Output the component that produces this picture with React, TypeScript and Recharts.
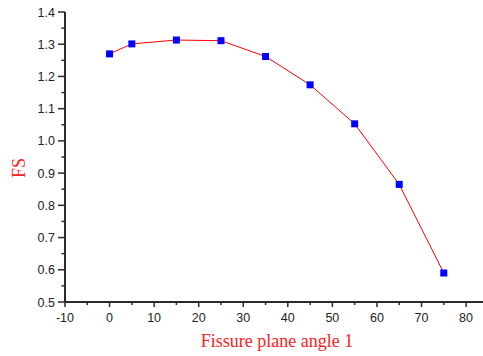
import React from 'react';
import { LineChart, Line, XAxis, YAxis, Label } from 'recharts';

const angles = [0, 5, 15, 25, 35, 45, 55, 65, 75];
const fsValues = [1.27, 1.301, 1.313, 1.311, 1.262, 1.174, 1.053, 0.865, 0.59];
const xTicks = [-10, -5, 0, 5, 10, 15, 20, 25, 30, 35, 40, 45, 50, 55, 60, 65, 70, 75, 80];
const yTicks = [0.5, 0.55, 0.6, 0.65, 0.7, 0.75, 0.8, 0.85, 0.9, 0.95, 1.0, 1.05, 1.1, 1.15, 1.2, 1.25, 1.3, 1.35, 1.4];
const xMajor = [-10, 0, 10, 20, 30, 40, 50, 60, 70, 80];
const yMajor = [0.5, 0.6, 0.7, 0.8, 0.9, 1.0, 1.1, 1.2, 1.3, 1.4];

const data = angles.map((a, i) => ({ angle: a, fs: fsValues[i] }));

const AXIS = '#2a2a2a';
const TICK_FONT = '"Liberation Sans", Arial, sans-serif';
const LABEL_FONT = '"Liberation Serif", "Times New Roman", serif';

const isMajor = (v: number, list: number[]) => list.some((m) => Math.abs(m - v) < 1e-6);

const XTick = (props: any) => {
  const { x, y, payload } = props;
  const major = isMajor(payload.value, xMajor);
  return (
    <g>
      <line x1={x} x2={x} y1={y} y2={y + (major ? 5 : 3)} stroke={AXIS} strokeWidth={1.5} />
      {major && (
        <text x={x} y={y + 20} textAnchor="middle" fontFamily={TICK_FONT} fontSize={12.5} fill="#222">
          {payload.value}
        </text>
      )}
    </g>
  );
};

const YTick = (props: any) => {
  const { x, y, payload } = props;
  const major = isMajor(payload.value, yMajor);
  return (
    <g>
      <line x1={x} x2={x - (major ? 7 : 3.5)} y1={y} y2={y} stroke={AXIS} strokeWidth={1.5} />
      {major && (
        <text x={x - 10} y={y + 4.5} textAnchor="end" fontFamily={TICK_FONT} fontSize={12.5} fill="#222">
          {payload.value.toFixed(1)}
        </text>
      )}
    </g>
  );
};

const SquareDot = (props: any) => {
  const { cx, cy } = props;
  if (cx == null || cy == null) return null;
  return <rect x={cx - 3.5} y={cy - 3.5} width={7} height={7} fill="#0000ff" />;
};

export default function App() {
  return (
    <div style={{ position: 'absolute', left: 0, top: 0, width: 483, height: 356, background: '#fff' }}>
      <LineChart width={483} height={356} data={data} margin={{ top: 12, right: 0, bottom: 0, left: 0 }}>
        <XAxis
          dataKey="angle"
          type="number"
          domain={[-10, 83.8]}
          allowDataOverflow
          ticks={xTicks}
          interval={0}
          tickSize={0}
          tickMargin={0}
          tickLine={false}
          tick={<XTick />}
          axisLine={{ stroke: AXIS, strokeWidth: 2 }}
          height={54}
        >
          <Label
            content={({ viewBox }: any) => (
              <text
                x={viewBox.x + viewBox.width / 2 + 3}
                y={viewBox.y + 45}
                textAnchor="middle"
                fontFamily={LABEL_FONT}
                fontSize={18}
                fill="#ff2020"
              >
                Fissure plane angle 1
              </text>
            )}
          />
        </XAxis>
        <YAxis
          type="number"
          domain={[0.5, 1.4]}
          ticks={yTicks}
          interval={0}
          tickSize={0}
          tickMargin={0}
          tickLine={false}
          tick={<YTick />}
          axisLine={{ stroke: AXIS, strokeWidth: 2 }}
          width={65}
        >
          <Label
            content={({ viewBox }: any) => {
              const cx = viewBox.x + 19;
              const cy = viewBox.y + viewBox.height / 2 + 11;
              return (
                <text
                  x={cx}
                  y={cy}
                  transform={`rotate(-90 ${cx} ${cy})`}
                  textAnchor="middle"
                  dominantBaseline="central"
                  fontFamily={LABEL_FONT}
                  fontSize={18}
                  fill="#ff2020"
                >
                  FS
                </text>
              );
            }}
          />
        </YAxis>
        <Line
          type="linear"
          dataKey="fs"
          stroke="#ff0000"
          strokeWidth={1}
          dot={<SquareDot />}
          activeDot={false}
          isAnimationActive={false}
        />
      </LineChart>
    </div>
  );
}
